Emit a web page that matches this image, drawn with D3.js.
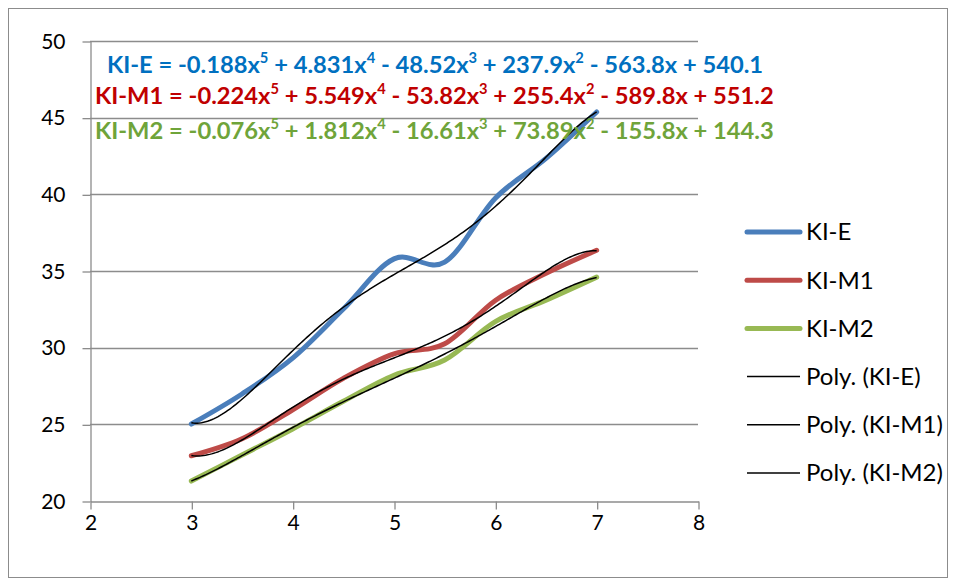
<!DOCTYPE html>
<html>
<head>
<meta charset="utf-8">
<script src="https://cdn.jsdelivr.net/npm/d3@7"></script>
<style>
  body { margin: 0; background: #fff; }
  svg { display: block; }
  text { font-family: Lato, "Open Sans", sans-serif; }
</style>
</head>
<body>
<svg id="chart" width="956" height="581"></svg>
<script>
// Measured values per series
const xValues = [3, 3.5, 4, 4.5, 5, 5.5, 6, 6.5, 7];
const kiE  = [25.02, 26.98, 29.32, 32.52, 35.79, 35.58, 39.75, 42.34, 45.37];
const kiM1 = [22.95, 24.06, 25.95, 28.0, 29.6, 30.25, 33.08, 34.85, 36.35];
const kiM2 = [21.3, 23.0, 24.7, 26.5, 28.2, 29.2, 31.7, 33.1, 34.6];
const seriesNames = ["KI-E", "KI-M1", "KI-M2"];

// Trendline equation coefficients (x^5 ... x^0) as printed
const coefE  = [-0.188, 4.831, -48.52, 237.9, -563.8, 540.1];
const coefM1 = [-0.224, 5.549, -53.82, 255.4, -589.8, 551.2];
const coefM2 = [-0.076, 1.812, -16.61, 73.89, -155.8, 144.3];

const xTicks = [2, 3, 4, 5, 6, 7, 8];
const yTicks = [20, 25, 30, 35, 40, 45, 50];

const seriesColors = ["#4A7EBB", "#BE4B48", "#98B954"];
const equationColors = ["#0070C0", "#C00000", "#6FA43A"];

const svg = d3.select("#chart");

// chart frame
svg.append("rect")
  .attr("x", 8.5).attr("y", 8.5)
  .attr("width", 939).attr("height", 569)
  .attr("fill", "#fff").attr("stroke", "#8c8c8c").attr("stroke-width", 1);

const x = d3.scaleLinear().domain([2, 8]).range([90, 698]);
const y = d3.scaleLinear().domain([20, 50]).range([501, 41]);

// horizontal gridlines
svg.append("g")
  .selectAll("line")
  .data(yTicks.filter(v => v > 20))
  .join("line")
  .attr("x1", x(2)).attr("x2", x(8))
  .attr("y1", d => Math.round(y(d)) + 0.5).attr("y2", d => Math.round(y(d)) + 0.5)
  .attr("stroke", "#8c8c8c").attr("stroke-width", 1.3);

// axes
const yAxis = svg.append("g")
  .attr("transform", `translate(${x(2) + 0.5},0.5)`)
  .call(d3.axisLeft(y).tickValues(yTicks).tickFormat(d3.format("d"))
    .tickSize(8).tickSizeOuter(0).tickPadding(17));
const xAxis = svg.append("g")
  .attr("transform", `translate(0.5,${y(20) + 0.5})`)
  .call(d3.axisBottom(x).tickValues(xTicks).tickFormat(d3.format("d"))
    .tickSize(8).tickSizeOuter(0).tickPadding(6));
[yAxis, xAxis].forEach(g => {
  g.select(".domain").attr("stroke", "#8c8c8c").attr("stroke-width", 1.3);
  g.selectAll(".tick line").attr("stroke", "#8c8c8c").attr("stroke-width", 1.3);
  g.selectAll(".tick text").attr("fill", "#000").style("font-size", "21px")
    .style("font-family", "Lato, 'Open Sans', sans-serif");
});

// least-squares polynomial fit, centred on x0; returns an evaluator
function polyFit(xs, ys, deg, x0) {
  const n = deg + 1;
  const A = Array.from({ length: n }, () => new Array(n).fill(0));
  const b = new Array(n).fill(0);
  xs.forEach((xv, i) => {
    const t = xv - x0;
    const p = [];
    for (let k = 0; k < n; k++) p.push(Math.pow(t, k));
    for (let r = 0; r < n; r++) {
      for (let c = 0; c < n; c++) A[r][c] += p[r] * p[c];
      b[r] += p[r] * ys[i];
    }
  });
  for (let col = 0; col < n; col++) {
    let piv = col;
    for (let r = col + 1; r < n; r++) if (Math.abs(A[r][col]) > Math.abs(A[piv][col])) piv = r;
    [A[col], A[piv]] = [A[piv], A[col]];
    [b[col], b[piv]] = [b[piv], b[col]];
    for (let r = col + 1; r < n; r++) {
      const f = A[r][col] / A[col][col];
      for (let c = col; c < n; c++) A[r][c] -= f * A[col][c];
      b[r] -= f * b[col];
    }
  }
  const a = new Array(n).fill(0);
  for (let r = n - 1; r >= 0; r--) {
    let s = b[r];
    for (let c = r + 1; c < n; c++) s -= A[r][c] * a[c];
    a[r] = s / A[r][r];
  }
  return xv => a.reduceRight((acc, ak) => acc * (xv - x0) + ak, 0);
}

const seriesData = [kiE, kiM1, kiM2];

const smooth = d3.line()
  .x(d => x(d[0])).y(d => y(d[1]))
  .curve(d3.curveCardinal.tension(0));

// data series (smoothed lines)
seriesData.forEach((vals, i) => {
  svg.append("path")
    .datum(xValues.map((xv, j) => [xv, vals[j]]))
    .attr("d", smooth)
    .attr("fill", "none")
    .attr("stroke", seriesColors[i])
    .attr("stroke-width", 5)
    .attr("stroke-linecap", "round")
    .attr("stroke-linejoin", "round");
});

// 5th order polynomial trendlines
const sampleX = d3.range(0, 201).map(k => 3 + 4 * k / 200);
seriesData.forEach(vals => {
  const fit = polyFit(xValues, vals, 5, 5);
  svg.append("path")
    .datum(sampleX.map(xv => [xv, fit(xv)]))
    .attr("d", d3.line().x(d => x(d[0])).y(d => y(d[1])))
    .attr("fill", "none")
    .attr("stroke", "#000")
    .attr("stroke-width", 1.5);
});

// trendline equations
const equations = [coefE, coefM1, coefM2];
const eqLeft = [107, 95, 95];
const eqBase = [73, 104, 139];
function addEquation(i, size) {
  const t = svg.append("text")
    .attr("x", eqLeft[i]).attr("y", eqBase[i])
    .attr("fill", equationColors[i])
    .style("font-weight", "bold")
    .style("font-size", size + "px");
  const rise = 0.42 * size;
  let shift = 0;
  t.append("tspan").text(seriesNames[i] + " = ");
  equations[i].forEach((c, k) => {
    const power = 5 - k;
    const num = String(Math.abs(c));
    const lead = k === 0 ? (c < 0 ? "-" : "") : (c < 0 ? " - " : " + ");
    t.append("tspan").attr("dy", shift).text(lead + num + (power > 0 ? "x" : ""));
    shift = 0;
    if (power > 1) {
      t.append("tspan").attr("dy", -rise).style("font-size", (0.62 * size) + "px").text(String(power));
      shift = rise;
    }
  });
  return t;
}
let eqSize = 20;
const probe = addEquation(1, eqSize);
eqSize = eqSize * 679 / probe.node().getComputedTextLength();
probe.remove();
[0, 1, 2].forEach(i => addEquation(i, eqSize));

// legend
const legendNames = seriesNames.concat(seriesNames.map(n => `Poly. (${n})`));
const legend = svg.append("g");
let legendSize = 20;
const lprobe = legend.append("text").style("font-size", legendSize + "px").text(legendNames[4]);
legendSize = legendSize * 137 / lprobe.node().getComputedTextLength();
lprobe.remove();
legendNames.forEach((name, i) => {
  const ly = 232 + i * 48.2;
  const isSeries = i < 3;
  legend.append("line")
    .attr("x1", 747).attr("x2", 800)
    .attr("y1", ly).attr("y2", ly)
    .attr("stroke", isSeries ? seriesColors[i] : "#000")
    .attr("stroke-width", isSeries ? 5 : 1.5)
    .attr("stroke-linecap", isSeries ? "round" : "butt");
  legend.append("text")
    .attr("x", 806).attr("y", ly)
    .attr("dy", "0.35em")
    .attr("fill", "#000")
    .style("font-size", legendSize + "px")
    .text(name);
});
</script>
</body>
</html>
